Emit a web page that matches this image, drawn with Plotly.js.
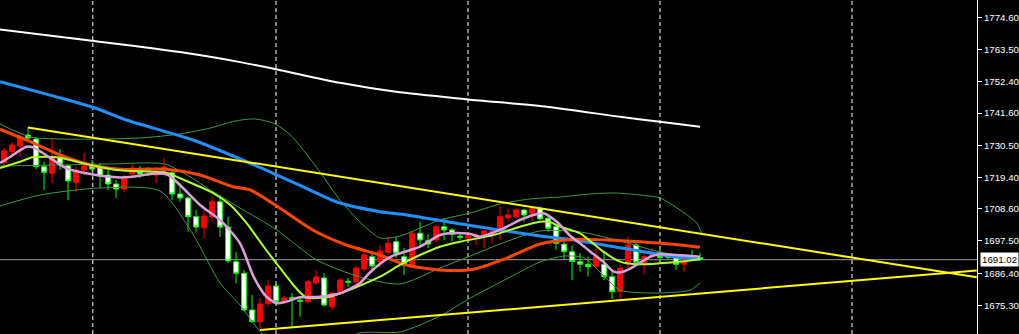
<!DOCTYPE html>
<html><head><meta charset="utf-8">
<script src="https://cdn.plot.ly/plotly-3.0.1.min.js"></script>
<style>html,body{margin:0;padding:0;background:#000;}#chart{width:1019px;height:334px;}</style>
</head><body><div id="chart"></div>
<script>
// ---- Candles (bar index 0..87) ----
const open = [1724.47,1728.26,1730.23,1734.02,1732.65,1723.09,1720.81,1726.33,1723.44,1717.71,
1721.95,1723.68,1723.09,1720.23,1717.13,1715.40,1720.57,1722.30,1721.78,1720.23,
1721.95,1721.02,1713.68,1712.30,1705.85,1702.06,1705.85,1711.02,1702.30,1690.34,
1686.34,1673.68,1669.65,1675.99,1681.96,1676.55,1677.99,1677.06,1676.55,1683.00,
1684.72,1674.82,1679.99,1683.61,1683.44,1687.82,1692.06,1690.34,1693.58,1697.23,
1692.06,1688.61,1700.13,1697.58,1697.82,1702.41,1701.27,1699.13,1698.41,1698.85,
1699.78,1700.13,1701.85,1705.51,1705.85,1708.16,1707.02,1708.75,1705.30,1702.41,
1696.34,1693.79,1690.34,1689.44,1688.61,1689.44,1685.16,1679.99,1689.44,1696.09,
1689.44,1692.06,1693.58,1692.06,1691.72,1689.44,1692.30,1691.72];
const high = [1729.54,1731.61,1734.02,1736.78,1732.99,1724.82,1732.65,1729.19,1723.68,1723.09,
1727.82,1725.40,1724.37,1721.95,1718.51,1720.23,1724.02,1723.33,1723.00,1722.99,
1726.09,1721.95,1716.78,1712.75,1708.16,1708.16,1712.75,1713.33,1705.85,1693.68,
1687.47,1678.85,1677.82,1684.03,1682.65,1678.51,1679.54,1677.82,1684.03,1687.47,
1686.44,1679.99,1684.72,1684.72,1688.85,1694.37,1693.79,1696.09,1698.96,1698.96,
1695.06,1700.92,1704.13,1699.89,1702.99,1705.40,1701.96,1699.89,1699.89,1700.23,
1701.27,1701.27,1709.65,1708.51,1708.75,1708.51,1708.96,1709.30,1705.85,1702.99,
1697.23,1695.85,1693.34,1692.06,1694.96,1693.79,1686.89,1689.20,1698.96,1697.23,
1693.23,1695.06,1694.37,1693.00,1693.00,1692.65,1694.37,1693.34];
const low = [1723.68,1727.13,1726.44,1731.95,1722.30,1715.06,1717.47,1721.95,1711.61,1714.47,
1720.23,1721.26,1715.75,1715.06,1712.30,1714.37,1719.19,1719.19,1719.88,1717.47,
1720.92,1711.61,1710.92,1700.68,1700.68,1698.51,1704.13,1698.85,1689.78,1682.89,
1673.10,1669.20,1666.79,1674.82,1676.10,1676.10,1667.92,1671.37,1676.10,1682.30,
1674.82,1673.68,1679.54,1681.61,1682.65,1687.13,1687.47,1688.61,1692.65,1691.61,
1685.75,1688.16,1694.96,1695.06,1697.13,1697.82,1697.23,1697.82,1697.82,1696.09,
1694.96,1696.68,1697.82,1704.13,1705.06,1704.13,1704.37,1704.71,1700.68,1694.37,
1691.27,1684.03,1686.89,1685.16,1688.06,1684.03,1677.47,1677.47,1688.06,1689.44,
1685.99,1691.61,1691.27,1691.27,1687.47,1686.78,1691.61,1690.58];
const close = [1728.61,1730.57,1732.99,1732.99,1723.09,1721.16,1726.19,1724.02,1718.16,1721.95,
1723.33,1722.30,1719.88,1717.13,1715.40,1718.85,1722.64,1720.57,1721.44,1720.92,
1722.99,1713.68,1712.30,1705.85,1702.30,1706.09,1711.02,1702.30,1690.58,1686.34,
1673.68,1669.65,1675.75,1681.96,1676.55,1677.82,1677.65,1676.72,1683.44,1685.06,
1675.41,1679.54,1684.03,1683.27,1688.16,1692.65,1688.85,1694.03,1696.68,1693.23,
1689.20,1700.13,1697.82,1696.44,1702.41,1701.27,1699.78,1698.79,1699.30,1699.54,
1700.92,1700.92,1705.85,1706.44,1708.16,1706.44,1708.75,1705.06,1701.85,1696.68,
1693.79,1690.41,1689.44,1688.61,1692.06,1685.16,1679.99,1688.06,1696.09,1690.13,
1692.06,1693.58,1691.72,1691.79,1689.44,1691.72,1691.96,1691.02];

// ---- Indicator lines (bar index, price) ----
const maWhiteX = [-0.5,11,22,29,34,42,49,58,68,77,82,87];
const maWhiteY = [1770.4,1766.5,1762.6,1759.4,1756.7,1752.0,1748.9,1746.3,1743.7,1740.3,1738.6,1736.9];
const maBlueX = [-0.5,11.1,15.3,23.6,30.8,37.8,41.6,47,50.3,58.7,67,71.2,77.4,83.7,87];
const maBlueY = [1752.40,1743.57,1739.19,1732.30,1724.27,1715.65,1710.92,1707.58,1706.44,1702.65,1699.20,1697.82,1694.96,1692.06,1691.17];
const maOrangeX = [-0.5,3.3,7,10.8,14.5,20.3,24.5,28.6,30.8,34.5,38.6,42.8,47,50.3,54.5,58.7,62.8,67,71.2,75.3,79.5,83.7,87];
const maOrangeY = [1736.0,1731.71,1727.13,1723.68,1722.20,1722.20,1720.23,1716.20,1715.06,1708.75,1701.27,1696.09,1692.65,1689.20,1687.47,1687.72,1691.51,1696.44,1697.99,1697.82,1697.23,1696.34,1695.30];
const maLimeX = [-0.5,2,3.6,6.6,10.8,14.1,18.3,20.3,22.8,26.2,28.3,30.3,32.4,34.5,36.6,37.8,40.8,43.7,47,49.5,52,54.5,57,61.2,64.5,67,68.3,69.5,72,74.9,77,79.1,82,85.3,87];
const maLimeY = [1722.6,1724.82,1726.33,1726.33,1723.68,1721.95,1721.37,1721.02,1718.16,1713.92,1709.89,1703.68,1695.75,1688.16,1680.92,1677.99,1678.27,1681.17,1685.16,1689.20,1692.65,1695.51,1697.23,1699.54,1702.41,1704.13,1703.92,1702.41,1700.13,1693.79,1690.34,1689.44,1689.78,1690.58,1691.27];
const maPinkX = [-0.5,0.8,2.8,3.6,4.9,7.8,10.3,12.4,14.5,16.1,18.6,20.5,22,24.5,27,29.5,31.2,32.8,34.1,35.3,37,39.5,42,44.5,45.8,48.3,50.8,52,54.5,55.8,58.3,59.5,62,64.5,66.2,67.4,69.1,70.8,72,73.3,74.9,76.2,77.4,78.7,80.8,82,84.1,87];
const maPinkY = [1724.37,1726.54,1729.99,1729.78,1727.71,1722.54,1720.82,1719.88,1719.37,1719.64,1720.68,1720.23,1716.78,1709.89,1704.71,1696.68,1685.16,1678.27,1675.99,1676.55,1678.06,1678.27,1679.44,1682.99,1686.78,1691.96,1694.37,1695.51,1699.54,1700.13,1699.89,1698.96,1701.27,1704.71,1706.44,1707.02,1704.13,1699.20,1696.68,1693.79,1690.34,1686.89,1686.89,1688.61,1692.06,1692.89,1692.65,1692.06];
const bbUpperX = [-0.5,3.3,7,12,17,22,25.8,28.9,31.4,33.9,35.8,37.6,39.5,42,44.5,47,49.5,54.5,58.3,62,65.8,69.5,73.3,76.4,79.5,82,84.5,86.6,87.2];
const bbUpperY = [1737.81,1733.33,1732.64,1732.64,1732.99,1734.37,1736.44,1738.85,1739.54,1737.81,1734.02,1728.16,1721.26,1711.61,1704.02,1698.51,1699.20,1704.71,1707.13,1710.23,1711.96,1712.65,1713.68,1714.02,1713.33,1712.30,1708.16,1703.68,1700.23];
const bbMidX = [-0.5,7,13.3,20.1,23.3,25.8,29.5,34.1,39.1,44.5,49.5,54.5,58.3,62,67,72,77,82,87];
const bbMidY = [1723.33,1723.68,1724.02,1724.02,1719.54,1715.06,1708.85,1701.27,1690.92,1685.06,1682.65,1688.16,1692.30,1696.44,1700.92,1700.58,1697.47,1693.68,1691.27];
const bbLowerX = [-0.5,4.5,12,19.5,23.6,27,29.5,32.3,34.5,39.5,44.5,49.5,54.5,58.3,63.3,67,70.1,72.6,74.5,77,82,85.8,87];
const bbLowerY = [1709.54,1713.33,1715.75,1714.71,1699.89,1682.99,1675.41,1665.41,1661.61,1659.20,1665.75,1666.10,1671.62,1677.82,1685.06,1690.23,1692.30,1691.61,1686.78,1680.58,1679.54,1680.58,1682.99];

// ---- Trend lines ----
const trendUpperX = [3, 121.6];
const trendUpperY = [1736.64, 1684.96];
const trendLowerX = [32, 121.6];
const trendLowerY = [1666.79, 1687.30];

// ---- Axis / misc ----
const priceTicks = [1774.60,1763.50,1752.40,1741.60,1730.50,1719.40,1708.60,1697.50,1686.40,1675.30];
const priceTickText = ['1774.60','1763.50','1752.40','1741.60','1730.50','1719.40','1708.60','1697.50','1686.40','1675.30'];
const separators = [11.1, 34, 58, 82, 106];
const bidPrice = 1691.02;

const idx = close.map((_, i) => i);

function line(x, y, color, width) {
  return {type:'scatter', mode:'lines', x:x, y:y, hoverinfo:'skip',
    line:{color:color, width:width, shape:'spline', smoothing:0.7}};
}

const traces = [
  line(bbUpperX, bbUpperY, '#3c9a46', 1),
  line(bbMidX, bbMidY, '#3c9a46', 1),
  line(bbLowerX, bbLowerY, '#3c9a46', 1),
  {type:'candlestick', x:idx, open:open, high:high, low:low, close:close, hoverinfo:'skip',
   increasing:{line:{color:'#ff0000', width:1}, fillcolor:'#ff0000'},
   decreasing:{line:{color:'#00ff00', width:1}, fillcolor:'#ffffff'}},
  line(maWhiteX, maWhiteY, '#ffffff', 2),
  line(maBlueX, maBlueY, '#1e90ff', 3),
  line(maOrangeX, maOrangeY, '#ff4500', 3),
  line(maLimeX, maLimeY, '#adff2f', 2),
  line(maPinkX, maPinkY, '#dda0dd', 2.5),
  {type:'scatter', mode:'lines', x:trendUpperX, y:trendUpperY, hoverinfo:'skip', line:{color:'#ffff00', width:2}},
  {type:'scatter', mode:'lines', x:trendLowerX, y:trendLowerY, hoverinfo:'skip', line:{color:'#ffff00', width:2}}
];

const shapes = separators.map(s => ({type:'line', xref:'x', yref:'paper', x0:s, x1:s, y0:0, y1:1,
  layer:'below', line:{color:'#ffffff', width:1, dash:'4px,3px'}}));
shapes.push({type:'line', xref:'paper', yref:'y', x0:0, x1:1, y0:bidPrice, y1:bidPrice,
  layer:'below', line:{color:'#9a9a9a', width:1}});

const layout = {
  width:1019, height:334,
  margin:{l:0, r:42, t:0, b:0, pad:0},
  paper_bgcolor:'#000000', plot_bgcolor:'#000000',
  showlegend:false, hovermode:false,
  boxgap:0.25, boxgroupgap:0.2,
  xaxis:{range:[-0.5,121.625], showgrid:false, zeroline:false, showticklabels:false,
    ticks:'', showline:false, rangeslider:{visible:false}, fixedrange:true},
  yaxis:{range:[1665.40,1780.57], side:'right', showgrid:false, zeroline:false,
    tickmode:'array', tickvals:priceTicks, ticktext:priceTickText,
    ticks:'outside', ticklen:4, tickcolor:'#ffffff', tickwidth:1,
    showline:true, linecolor:'#ffffff', linewidth:1,
    tickfont:{family:'Liberation Sans, Arial, sans-serif', size:9.7, color:'#ffffff'},
    fixedrange:true},
  shapes:shapes,
  annotations:[{xref:'paper', yref:'y', x:1, y:bidPrice, xanchor:'left', yanchor:'middle',
    xshift:3, text:bidPrice.toFixed(2), showarrow:false, bgcolor:'#ffffff', borderpad:1,
    font:{family:'Liberation Sans, Arial, sans-serif', size:9.7, color:'#000000'}}]
};

Plotly.newPlot('chart', traces, layout, {staticPlot:true, displayModeBar:false});
</script>
</body></html>
